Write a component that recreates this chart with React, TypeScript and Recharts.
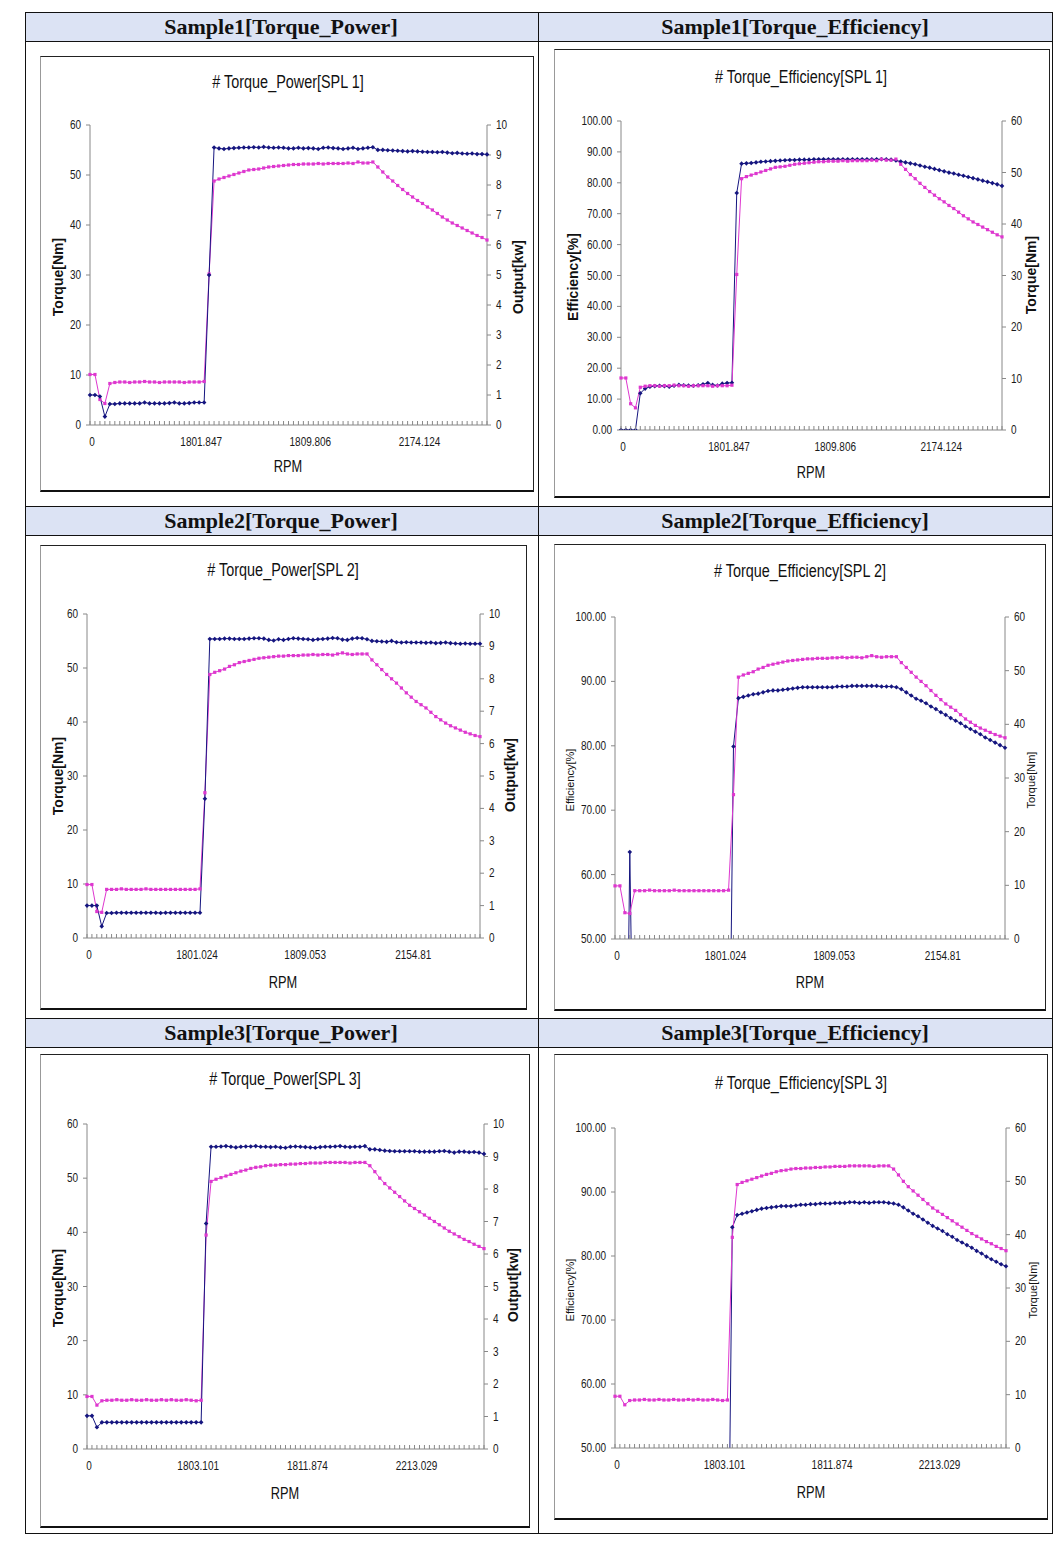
import { LineChart, Line, XAxis, YAxis } from 'recharts';

// x tick labels (every 22nd category carries an RPM label)
const rpmLabels1 = ['0', '1801.847', '1809.806', '2174.124'];
const rpmLabels2 = ['0', '1801.024', '1809.053', '2154.81'];
const rpmLabels3 = ['0', '1803.101', '1811.874', '2213.029'];

// Sample 1
const torque1 = [
  10.1, 10.1, 5.1, 4.3, 8.3,
  8.5, 8.6, 8.6, 8.5, 8.6, 8.6, 8.7, 8.6, 8.6, 8.5, 8.6, 8.6, 8.6, 8.6, 8.5, 8.6, 8.6, 8.6, 8.7,
  30.2,
  48.8, 49.2, 49.5, 49.8, 50.1, 50.4, 50.7, 51.0, 51.1, 51.2, 51.4, 51.6, 51.7, 51.8, 51.9, 52.0, 52.1,
  52.1, 52.2, 52.2, 52.2, 52.3, 52.2, 52.3, 52.3, 52.3, 52.3, 52.4, 52.3, 52.6, 52.4, 52.4, 52.6,
  51.6, 50.6, 49.6, 48.8, 47.9, 47.1, 46.3, 45.6, 44.9, 44.3, 43.6, 43.0, 42.3, 41.6, 41.0, 40.4,
  39.9, 39.4, 38.9, 38.4, 37.9, 37.5, 37.0,
];
const output1 = [
  1.0, 1.0, 0.95, 0.28, 0.7,
  0.7, 0.72, 0.72, 0.72, 0.72, 0.72, 0.75, 0.72, 0.72, 0.72, 0.72, 0.73, 0.75, 0.72, 0.72, 0.73, 0.75, 0.75, 0.75,
  5.0,
  9.25, 9.22, 9.2, 9.22, 9.23, 9.24, 9.25, 9.25, 9.26, 9.25, 9.27, 9.25, 9.24, 9.25, 9.24, 9.22, 9.22,
  9.24, 9.22, 9.23, 9.22, 9.2, 9.24, 9.25, 9.23, 9.22, 9.2, 9.22, 9.24, 9.2, 9.22, 9.24, 9.26,
  9.17, 9.17, 9.16, 9.15, 9.14, 9.13, 9.12, 9.13, 9.12, 9.11, 9.1, 9.1, 9.09, 9.1, 9.08, 9.06,
  9.07, 9.05, 9.04, 9.05, 9.03, 9.03, 9.02,
];
const efficiency1 = [
  0, 0, 0, 0, 11.9,
  13.4, 14.0, 14.2, 14.3, 14.2, 14.0, 14.3, 14.6, 14.5, 14.4, 14.3, 14.5, 14.8, 15.2, 14.6, 14.4, 15.0, 15.2, 15.3,
  76.7,
  86.2, 86.3, 86.4, 86.6, 86.8, 86.9, 87.0, 87.1, 87.2, 87.3, 87.4, 87.4, 87.5, 87.5, 87.5, 87.6, 87.6,
  87.6, 87.6, 87.6, 87.6, 87.6, 87.6, 87.6, 87.6, 87.6, 87.6, 87.6, 87.6, 87.6, 87.6, 87.5,
  87.2, 86.9, 86.6, 86.3, 86.0, 85.6, 85.2, 84.9, 84.5, 84.1, 83.7, 83.3, 83.0, 82.6, 82.3, 81.9,
  81.5, 81.1, 80.7, 80.3, 79.9, 79.5, 79.0,
];

// Sample 2
const torque2 = [
  9.9, 9.9, 4.9, 4.75, 9.0,
  9.0, 9.0, 9.1, 9.0, 9.0, 9.0, 9.0, 9.1, 9.0, 9.0, 9.0, 9.0, 9.0, 9.0, 9.0, 9.0, 9.0, 9.0, 9.1,
  26.9,
  48.8, 49.2, 49.5, 49.8, 50.3, 50.6, 51.0, 51.2, 51.4, 51.6, 51.8, 51.9, 52.0, 52.1, 52.2, 52.2, 52.3,
  52.3, 52.3, 52.4, 52.4, 52.5, 52.4, 52.5, 52.5, 52.4, 52.6, 52.8, 52.6, 52.5, 52.6, 52.6, 52.6,
  51.5, 50.6, 49.7, 48.8, 48.0, 47.2, 46.3, 45.4, 44.6, 43.8, 43.2, 42.6, 41.8, 41.0, 40.4, 39.8,
  39.3, 38.9, 38.5, 38.1, 37.8, 37.5, 37.3,
];
const output2 = [
  1.0, 1.0, 1.0, 0.36, 0.77,
  0.77, 0.78, 0.78, 0.78, 0.78, 0.78, 0.78, 0.78, 0.78, 0.78, 0.77, 0.78, 0.78, 0.78, 0.78, 0.78, 0.78, 0.78, 0.78,
  4.3,
  9.23, 9.23, 9.23, 9.24, 9.24, 9.23, 9.23, 9.23, 9.24, 9.25, 9.25, 9.24, 9.2, 9.18, 9.22, 9.2, 9.23,
  9.25, 9.24, 9.23, 9.22, 9.2, 9.22, 9.23, 9.24, 9.26, 9.25, 9.21, 9.2, 9.24, 9.26, 9.25, 9.22,
  9.17, 9.16, 9.15, 9.14, 9.17, 9.13, 9.12, 9.13, 9.12, 9.12, 9.12, 9.11, 9.12, 9.1, 9.11, 9.12,
  9.1, 9.09, 9.08, 9.09, 9.08, 9.08, 9.08,
];
const efficiency2 = [
  0, 0, 0, 63.5, 12.0,
  13.8, 14.1, 14.2, 14.3, 14.2, 14.4, 14.3, 14.5, 14.4, 14.4, 14.5, 14.6, 14.5, 14.6, 14.7, 14.5, 14.8, 14.9, 15.0,
  79.9,
  87.4, 87.6, 87.8, 88.0, 88.1, 88.3, 88.5, 88.6, 88.6, 88.7, 88.8, 88.9, 89.0, 89.1, 89.1, 89.1, 89.1,
  89.1, 89.1, 89.1, 89.2, 89.2, 89.2, 89.3, 89.3, 89.3, 89.3, 89.3, 89.3, 89.2, 89.2, 89.2,
  89.1, 88.8, 88.3, 87.8, 87.3, 87.0, 86.6, 86.1, 85.7, 85.2, 84.8, 84.3, 83.9, 83.5, 83.0, 82.6,
  82.2, 81.8, 81.3, 80.9, 80.5, 80.1, 79.7,
];

// Sample 3
const torque3 = [
  9.7, 9.7, 8.1, 8.9, 9.0,
  9.0, 9.1, 9.0, 9.0, 9.1, 9.0, 9.0, 9.1, 9.0, 9.0, 9.1, 9.0, 9.1, 9.0, 9.0, 9.1, 9.0, 8.9, 9.0,
  39.5,
  49.4, 49.8, 50.1, 50.4, 50.7, 51.0, 51.3, 51.5, 51.8, 52.0, 52.1, 52.3, 52.4, 52.4, 52.5, 52.5,
  52.6, 52.6, 52.7, 52.7, 52.8, 52.8, 52.8, 52.9, 52.9, 52.9, 52.9, 52.9, 52.8, 52.9, 52.9, 52.9,
  52.3, 51.2, 50.0, 49.0, 48.2, 47.4, 46.6, 45.8, 45.0, 44.4, 43.8, 43.2, 42.6, 42.0, 41.4, 40.8,
  40.2, 39.7, 39.2, 38.7, 38.3, 37.8, 37.4, 37.0,
];
const output3 = [
  1.02, 1.02, 0.67, 0.82, 0.82,
  0.82, 0.82, 0.82, 0.82, 0.82, 0.82, 0.82, 0.82, 0.82, 0.82, 0.82, 0.82, 0.82, 0.82, 0.82, 0.82, 0.82, 0.82, 0.82,
  6.94,
  9.3, 9.3, 9.31, 9.32, 9.3, 9.28, 9.3, 9.31, 9.31, 9.32, 9.3, 9.3, 9.29, 9.3, 9.28, 9.27,
  9.3, 9.31, 9.3, 9.29, 9.28, 9.27, 9.29, 9.3, 9.3, 9.31, 9.32, 9.3, 9.29, 9.3, 9.3, 9.32,
  9.22, 9.22, 9.2, 9.18, 9.17, 9.16, 9.16, 9.16, 9.16, 9.16, 9.15, 9.15, 9.15, 9.15, 9.16, 9.17,
  9.15, 9.12, 9.15, 9.15, 9.13, 9.14, 9.12, 9.08,
];
const efficiency3 = [
  0, 0, 0, 0, 12.1,
  13.6, 14.0, 14.1, 14.2, 14.3, 14.2, 14.4, 14.3, 14.5, 14.4, 14.5, 14.6, 14.5, 14.7, 14.6, 14.8, 14.9, 15.0, 15.1,
  84.5,
  86.4, 86.6, 86.8, 87.0, 87.2, 87.4, 87.5, 87.6, 87.7, 87.8, 87.8, 87.8, 87.9, 88.0, 88.0, 88.1,
  88.1, 88.2, 88.2, 88.2, 88.3, 88.3, 88.3, 88.4, 88.4, 88.3, 88.4, 88.3, 88.4, 88.4, 88.4, 88.3,
  88.2, 88.0, 87.6, 87.1, 86.6, 86.2, 85.7, 85.2, 84.7, 84.3, 83.9, 83.4, 83.0, 82.5, 82.1, 81.7,
  81.3, 80.8, 80.4, 79.9, 79.5, 79.1, 78.7, 78.4,
];

const PINK = '#DE37CF';
const NAVY = '#15157F';
const AXIS = '#888888';
const SANS = "'Liberation Sans', Arial, sans-serif";
const SERIF = "'Liberation Serif', 'Times New Roman', serif";
const SQUEEZE = 0.8;

type Rect = { x: number; y: number; w: number; h: number };
type Plot = { l: number; t: number; r: number; b: number };
type Side = {
  values: number[];
  domain: [number, number];
  ticks: number[];
  digits: number;
  color: string;
  marker: 'square' | 'diamond';
};

const makeDot = (color: string, marker: string, minVal: number, bottom: number) => (p: any) => {
  const k = `d-${p.index}`;
  if (p.cx == null || p.cy == null || p.value < minVal || p.cy > bottom + 0.5) return <g key={k} />;
  if (marker === 'square')
    return <rect key={k} x={p.cx - 1.6} y={p.cy - 1.6} width={3.2} height={3.2} fill={color} />;
  return (
    <polygon
      key={k}
      points={`${p.cx},${p.cy - 2.3} ${p.cx + 2.3},${p.cy} ${p.cx},${p.cy + 2.3} ${p.cx - 2.3},${p.cy}`}
      fill={color}
    />
  );
};

// condensed label, like the narrow font of the original spreadsheet charts
const NarrowText = ({ x, y, anchor, size, children }: any) => (
  <text
    transform={`translate(${x},${y}) scale(${SQUEEZE},1)`}
    textAnchor={anchor}
    fontSize={size}
    fontFamily={SANS}
    fill="#1a1a1a"
  >
    {children}
  </text>
);

function Text({ x, y, children, size, bold, rotate, family, narrow }: any) {
  return (
    <div
      style={{
        position: 'absolute',
        left: x,
        top: y,
        transform: `translate(-50%, -50%)${rotate ? ' rotate(-90deg)' : ''}${narrow ? ` scaleX(${SQUEEZE})` : ''}`,
        whiteSpace: 'nowrap',
        fontFamily: family || SANS,
        fontSize: size,
        fontWeight: bold ? 'bold' : 'normal',
        color: '#111',
        lineHeight: 1,
      }}
    >
      {children}
    </div>
  );
}

interface PanelProps {
  frame: Rect;
  plot: Plot;
  left: Side;
  right: Side;
  rpmLabels: string[];
  title: string;
  titlePos: [number, number];
  leftTitle: string;
  leftPos: [number, number];
  rightTitle: string;
  rightPos: [number, number];
  rpmPos: [number, number];
  axisTitleSize: number;
  axisTitleBold: boolean;
}

function Panel(props: PanelProps) {
  const { frame, plot, left, right, rpmLabels } = props;
  const data = left.values.map((v, i) => ({ i, a: v, b: right.values[i] }));
  const axisY = plot.b - frame.y;
  const XTick = (p: any) => {
    const idx = p.payload.value;
    const lab = idx % 22 === 0 ? rpmLabels[idx / 22] : null;
    return (
      <g>
        <line x1={p.x} x2={p.x} y1={axisY} y2={axisY - 4} stroke={AXIS} strokeWidth={1} />
        {lab && (
          <NarrowText x={p.x + 2} y={axisY + 21} anchor="middle" size={12.5}>
            {lab}
          </NarrowText>
        )}
      </g>
    );
  };
  const yTick = (digits: number) => (p: any) => (
    <NarrowText x={p.x} y={p.y + 4} anchor={p.textAnchor} size={12.5}>
      {Number(p.payload.value).toFixed(digits)}
    </NarrowText>
  );
  return (
    <>
      <div style={{ position: 'absolute', left: frame.x, top: frame.y }}>
        <LineChart
          width={frame.w}
          height={frame.h}
          data={data}
          margin={{ top: plot.t - frame.y, right: 0, bottom: 0, left: 0 }}
        >
          <XAxis
            dataKey="i"
            type="category"
            interval={0}
            height={frame.y + frame.h - plot.b}
            axisLine={{ stroke: AXIS }}
            tickLine={false}
            tick={XTick}
          />
          <XAxis xAxisId="top" dataKey="i" orientation="top" height={0} tick={false} tickLine={false} axisLine={{ stroke: AXIS }} />
          <YAxis
            yAxisId="left"
            domain={left.domain}
            ticks={left.ticks}
            allowDataOverflow
            width={plot.l - frame.x}
            axisLine={{ stroke: AXIS }}
            tickLine={{ stroke: AXIS }}
            tickSize={4}
            tickMargin={5}
            tick={yTick(left.digits)}
          />
          <YAxis
            yAxisId="right"
            orientation="right"
            domain={right.domain}
            ticks={right.ticks}
            allowDataOverflow
            width={frame.x + frame.w - plot.r}
            axisLine={{ stroke: AXIS }}
            tickLine={{ stroke: AXIS }}
            tickSize={4}
            tickMargin={5}
            tick={yTick(right.digits)}
          />
          <Line
            yAxisId="left"
            dataKey="a"
            type="linear"
            stroke={left.color}
            strokeWidth={1}
            dot={makeDot(left.color, left.marker, left.domain[0], axisY)}
            isAnimationActive={false}
          />
          <Line
            yAxisId="right"
            dataKey="b"
            type="linear"
            stroke={right.color}
            strokeWidth={1}
            dot={makeDot(right.color, right.marker, right.domain[0], axisY)}
            isAnimationActive={false}
          />
        </LineChart>
      </div>
      <div
        style={{
          position: 'absolute',
          left: frame.x,
          top: frame.y,
          width: frame.w,
          height: frame.h,
          boxSizing: 'border-box',
          borderTop: '1px solid #222',
          borderRight: '1px solid #222',
          borderBottom: '2px solid #111',
          borderLeft: '1px solid #999',
          pointerEvents: 'none',
        }}
      />
      <Text x={props.titlePos[0]} y={props.titlePos[1]} size={18} narrow>
        {props.title}
      </Text>
      <Text x={props.leftPos[0]} y={props.leftPos[1]} size={props.axisTitleSize} bold={props.axisTitleBold} rotate>
        {props.leftTitle}
      </Text>
      <Text x={props.rightPos[0]} y={props.rightPos[1]} size={props.axisTitleSize} bold={props.axisTitleBold} rotate>
        {props.rightTitle}
      </Text>
      <Text x={props.rpmPos[0]} y={props.rpmPos[1]} size={16} narrow>
        RPM
      </Text>
    </>
  );
}

const torqueTicks = [0, 10, 20, 30, 40, 50, 60];
const outputTicks = [0, 1, 2, 3, 4, 5, 6, 7, 8, 9, 10];
const effTicksFull = [0, 10, 20, 30, 40, 50, 60, 70, 80, 90, 100];
const effTicksTop = [50, 60, 70, 80, 90, 100];

const torqueSide = (v: number[]): Side => ({ values: v, domain: [0, 60], ticks: torqueTicks, digits: 0, color: PINK, marker: 'square' });
const outputSide = (v: number[]): Side => ({ values: v, domain: [0, 10], ticks: outputTicks, digits: 0, color: NAVY, marker: 'diamond' });

const headers = [
  { text: 'Sample1[Torque_Power]', x: 281, y: 27 },
  { text: 'Sample1[Torque_Efficiency]', x: 795, y: 27 },
  { text: 'Sample2[Torque_Power]', x: 281, y: 521 },
  { text: 'Sample2[Torque_Efficiency]', x: 795, y: 521 },
  { text: 'Sample3[Torque_Power]', x: 281, y: 1033 },
  { text: 'Sample3[Torque_Efficiency]', x: 795, y: 1033 },
];
const headerRows = [
  [12, 41],
  [506, 535],
  [1018, 1047],
];

export default function App() {
  const line = (x: number, y: number, w: number, h: number, key: string) => (
    <div key={key} style={{ position: 'absolute', left: x, top: y, width: w, height: h, background: '#111' }} />
  );
  return (
    <div style={{ position: 'absolute', left: 0, top: 0, width: 1063, height: 1551, background: '#fff', overflow: 'hidden' }}>
      {headerRows.map(([a, b], k) => (
        <div key={`hb${k}`} style={{ position: 'absolute', left: 25, top: a, width: 1027, height: b - a, background: '#DCE3F4' }} />
      ))}
      {headers.map((h) => (
        <Text key={h.text} x={h.x} y={h.y} size={22} bold family={SERIF}>
          {h.text}
        </Text>
      ))}
      {[12, 41, 506, 535, 1018, 1047, 1533].map((y, k) => line(25, y, 1028, 1, `h${k}`))}
      {line(25, 12, 1, 1522, 'v0')}
      {line(538, 12, 1, 1522, 'v1')}
      {line(1052, 12, 1, 1522, 'v2')}

      <Panel
        frame={{ x: 40, y: 56, w: 494, h: 436 }}
        plot={{ l: 90, t: 125, r: 487, b: 425 }}
        left={torqueSide(torque1)}
        right={outputSide(output1)}
        rpmLabels={rpmLabels1}
        title="# Torque_Power[SPL 1]"
        titlePos={[288, 82]}
        leftTitle="Torque[Nm]"
        leftPos={[58, 277]}
        rightTitle="Output[kw]"
        rightPos={[518, 277]}
        rpmPos={[288, 467]}
        axisTitleSize={14}
        axisTitleBold
      />
      <Panel
        frame={{ x: 554, y: 49, w: 496, h: 449 }}
        plot={{ l: 621, t: 121, r: 1002, b: 430 }}
        left={{ values: efficiency1, domain: [0, 100], ticks: effTicksFull, digits: 2, color: NAVY, marker: 'diamond' }}
        right={torqueSide(torque1)}
        rpmLabels={rpmLabels1}
        title="# Torque_Efficiency[SPL 1]"
        titlePos={[801, 77]}
        leftTitle="Efficiency[%]"
        leftPos={[573, 277]}
        rightTitle="Torque[Nm]"
        rightPos={[1031, 275]}
        rpmPos={[811, 473]}
        axisTitleSize={14}
        axisTitleBold
      />
      <Panel
        frame={{ x: 40, y: 545, w: 487, h: 465 }}
        plot={{ l: 87, t: 614, r: 480, b: 938 }}
        left={torqueSide(torque2)}
        right={outputSide(output2)}
        rpmLabels={rpmLabels2}
        title="# Torque_Power[SPL 2]"
        titlePos={[283, 570]}
        leftTitle="Torque[Nm]"
        leftPos={[58, 776]}
        rightTitle="Output[kw]"
        rightPos={[510, 775]}
        rpmPos={[283, 983]}
        axisTitleSize={14}
        axisTitleBold
      />
      <Panel
        frame={{ x: 554, y: 544, w: 492, h: 467 }}
        plot={{ l: 615, t: 617, r: 1005, b: 939 }}
        left={{ values: efficiency2, domain: [50, 100], ticks: effTicksTop, digits: 2, color: NAVY, marker: 'diamond' }}
        right={torqueSide(torque2)}
        rpmLabels={rpmLabels2}
        title="# Torque_Efficiency[SPL 2]"
        titlePos={[800, 571]}
        leftTitle="Efficiency[%]"
        leftPos={[570, 780]}
        rightTitle="Torque[Nm]"
        rightPos={[1031, 780]}
        rpmPos={[810, 983]}
        axisTitleSize={11}
        axisTitleBold={false}
      />
      <Panel
        frame={{ x: 40, y: 1054, w: 490, h: 474 }}
        plot={{ l: 87, t: 1124, r: 484, b: 1449 }}
        left={torqueSide(torque3)}
        right={outputSide(output3)}
        rpmLabels={rpmLabels3}
        title="# Torque_Power[SPL 3]"
        titlePos={[285, 1079]}
        leftTitle="Torque[Nm]"
        leftPos={[58, 1288]}
        rightTitle="Output[kw]"
        rightPos={[513, 1285]}
        rpmPos={[285, 1494]}
        axisTitleSize={14}
        axisTitleBold
      />
      <Panel
        frame={{ x: 554, y: 1054, w: 494, h: 466 }}
        plot={{ l: 615, t: 1128, r: 1006, b: 1448 }}
        left={{ values: efficiency3, domain: [50, 100], ticks: effTicksTop, digits: 2, color: NAVY, marker: 'diamond' }}
        right={torqueSide(torque3)}
        rpmLabels={rpmLabels3}
        title="# Torque_Efficiency[SPL 3]"
        titlePos={[801, 1083]}
        leftTitle="Efficiency[%]"
        leftPos={[570, 1290]}
        rightTitle="Torque[Nm]"
        rightPos={[1033, 1290]}
        rpmPos={[811, 1493]}
        axisTitleSize={11}
        axisTitleBold={false}
      />
    </div>
  );
}
